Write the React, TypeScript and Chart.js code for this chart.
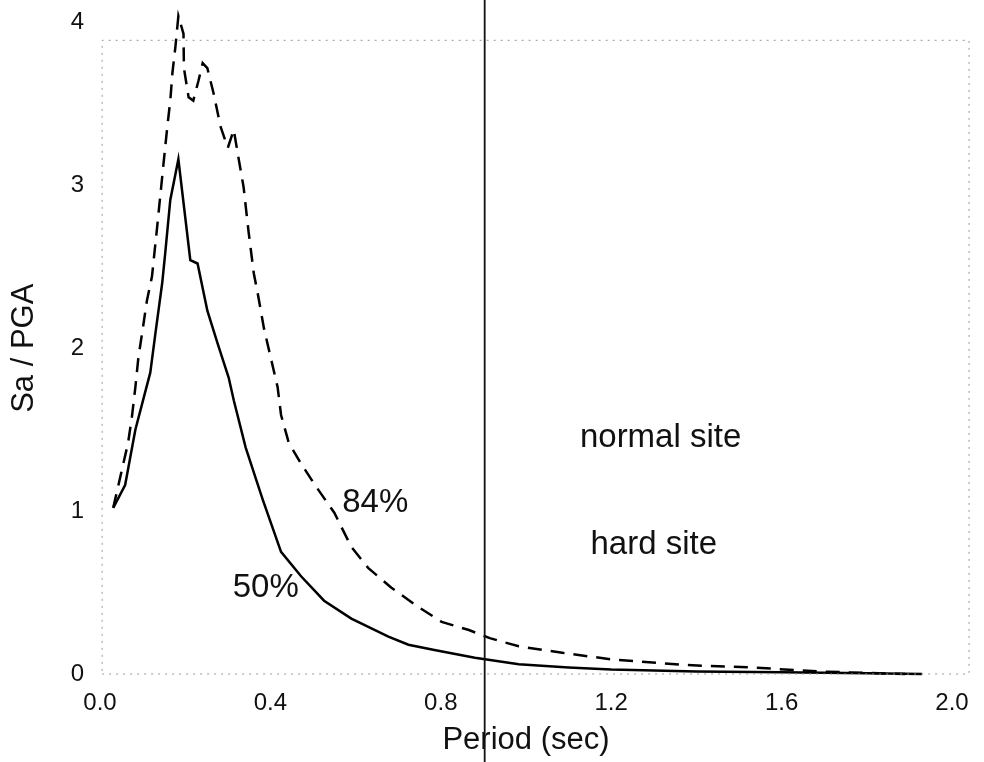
import React, { useEffect, useRef } from "react";
import { Chart, registerables } from "chart.js";

Chart.register(...registerables);

// ---- Data ----
const periods50 = [0.031, 0.059, 0.083, 0.101, 0.118, 0.130, 0.146, 0.153, 0.165, 0.184, 0.212, 0.229, 0.252, 0.276, 0.302, 0.314, 0.342, 0.382, 0.425, 0.472, 0.526, 0.59, 0.677, 0.724, 0.785, 0.88, 0.983, 1.1, 1.2, 1.4, 1.6, 1.8, 1.93];
const sa50 = [1.02, 1.16, 1.5, 1.68, 1.85, 2.09, 2.4, 2.58, 2.91, 3.16, 2.54, 2.52, 2.23, 2.03, 1.82, 1.68, 1.39, 1.07, 0.75, 0.6, 0.45, 0.34, 0.23, 0.18, 0.147, 0.10, 0.06, 0.04, 0.028, 0.016, 0.01, 0.005, 0.0];

const periods84 = [0.031, 0.066, 0.075, 0.083, 0.09, 0.101, 0.11, 0.122, 0.134, 0.149, 0.158, 0.165, 0.170, 0.177, 0.184, 0.196, 0.197, 0.208, 0.219, 0.231, 0.241, 0.252, 0.267, 0.283, 0.300, 0.314, 0.325, 0.337, 0.349, 0.361, 0.370, 0.385, 0.401, 0.417, 0.425, 0.443, 0.47, 0.502, 0.55, 0.59, 0.63, 0.684, 0.748, 0.802, 0.866, 0.915, 0.983, 1.085, 1.2, 1.375, 1.53, 1.69, 1.89];
const sa84 = [1.02, 1.42, 1.58, 1.76, 1.94, 2.13, 2.29, 2.44, 2.74, 3.13, 3.36, 3.52, 3.69, 3.85, 4.04, 3.93, 3.72, 3.54, 3.52, 3.64, 3.75, 3.72, 3.56, 3.36, 3.23, 3.34, 3.17, 2.99, 2.71, 2.46, 2.34, 2.12, 1.94, 1.76, 1.59, 1.42, 1.3, 1.17, 0.99, 0.78, 0.65, 0.53, 0.41, 0.32, 0.27, 0.22, 0.17, 0.13, 0.09, 0.055, 0.04, 0.015, 0.0];

// dotted plot frame (data coordinates)
const frameX = [0.005, 2.04, 2.04, 0.005, 0.005];
const frameY = [0, 0, 3.89, 3.89, 0];

// vertical scan line
const foldLineT = 0.903;

const xTicks = [0, 0.4, 0.8, 1.2, 1.6, 2.0];
const yTicks = [0, 1, 2, 3, 4];

const labelTexts = ["84%", "50%", "normal site", "hard site"];
const labelT = [0.646, 0.389, 1.316, 1.30];
const labelSa = [1.05, 0.53, 1.45, 0.79];

const FONT = "'Liberation Sans', Arial, Helvetica, sans-serif";

const toPts = (xs: number[], ys: number[]) => xs.map((x, i) => ({ x, y: ys[i] }));

const overlayPlugin = {
  id: "overlay",
  afterDatasetsDraw(chart: any) {
    const { ctx, scales } = chart;
    const xs = scales.x;
    const ys = scales.y;
    ctx.save();
    const fx = xs.getPixelForValue(foldLineT);
    ctx.strokeStyle = "#111";
    ctx.lineWidth = 1.8;
    ctx.beginPath();
    ctx.moveTo(fx, 0);
    ctx.lineTo(fx, chart.height);
    ctx.stroke();
    ctx.fillStyle = "#111";
    ctx.textAlign = "center";
    ctx.textBaseline = "middle";
    ctx.font = `33px ${FONT}`;
    labelTexts.forEach((t, i) => {
      ctx.fillText(t, xs.getPixelForValue(labelT[i]), ys.getPixelForValue(labelSa[i]));
    });
    ctx.restore();
  },
};

export default function App() {
  const ref = useRef<HTMLCanvasElement | null>(null);

  useEffect(() => {
    if (!ref.current) return;
    const chart = new Chart(ref.current, {
      type: "line",
      data: {
        datasets: [
          {
            label: "frame",
            data: toPts(frameX, frameY),
            borderColor: "#999",
            borderWidth: 1,
            borderDash: [2, 5],
            pointRadius: 0,
            tension: 0,
            clip: false as any,
          },
          {
            label: "50%",
            data: toPts(periods50, sa50),
            borderColor: "#000",
            borderWidth: 2.5,
            pointRadius: 0,
            tension: 0,
            clip: false as any,
          },
          {
            label: "84%",
            data: toPts(periods84, sa84),
            borderColor: "#000",
            borderWidth: 2.5,
            borderDash: [14, 9],
            pointRadius: 0,
            tension: 0,
            clip: false as any,
          },
        ],
      },
      options: {
        animation: false,
        responsive: true,
        maintainAspectRatio: false,
        layout: { padding: { top: 22, right: 32, left: 0, bottom: 0 } },
        plugins: { legend: { display: false }, tooltip: { enabled: false } },
        scales: {
          x: {
            type: "linear",
            min: 0,
            max: 2,
            afterFit: (s: any) => { s.height = 88; },
            afterBuildTicks: (s: any) => { s.ticks = xTicks.map((v) => ({ value: v })); },
            grid: { display: false },
            border: { display: false },
            ticks: {
              padding: 7,
              color: "#111",
              font: { family: FONT, size: 24 },
              callback: (v: any) => Number(v).toFixed(1),
              maxRotation: 0,
            },
            title: {
              display: true,
              text: "Period (sec)",
              color: "#111",
              font: { family: FONT, size: 31 },
              padding: { top: 0, bottom: 3 },
            },
          },
          y: {
            type: "linear",
            min: 0,
            max: 4,
            afterFit: (s: any) => { s.width = 100; },
            afterBuildTicks: (s: any) => { s.ticks = yTicks.map((v) => ({ value: v })); },
            grid: { display: false },
            border: { display: false },
            ticks: {
              padding: 8,
              color: "#111",
              font: { family: FONT, size: 24 },
              callback: (v: any) => String(v),
            },
            title: {
              display: true,
              text: "Sa / PGA",
              color: "#111",
              font: { family: FONT, size: 31 },
              padding: { top: 6, bottom: 0 },
            },
          },
        },
      },
      plugins: [overlayPlugin],
    });
    return () => chart.destroy();
  }, []);

  return (
    <div style={{ position: "fixed", left: 0, top: 0, width: 984, height: 762, background: "#fff" }}>
      <canvas ref={ref} />
    </div>
  );
}
